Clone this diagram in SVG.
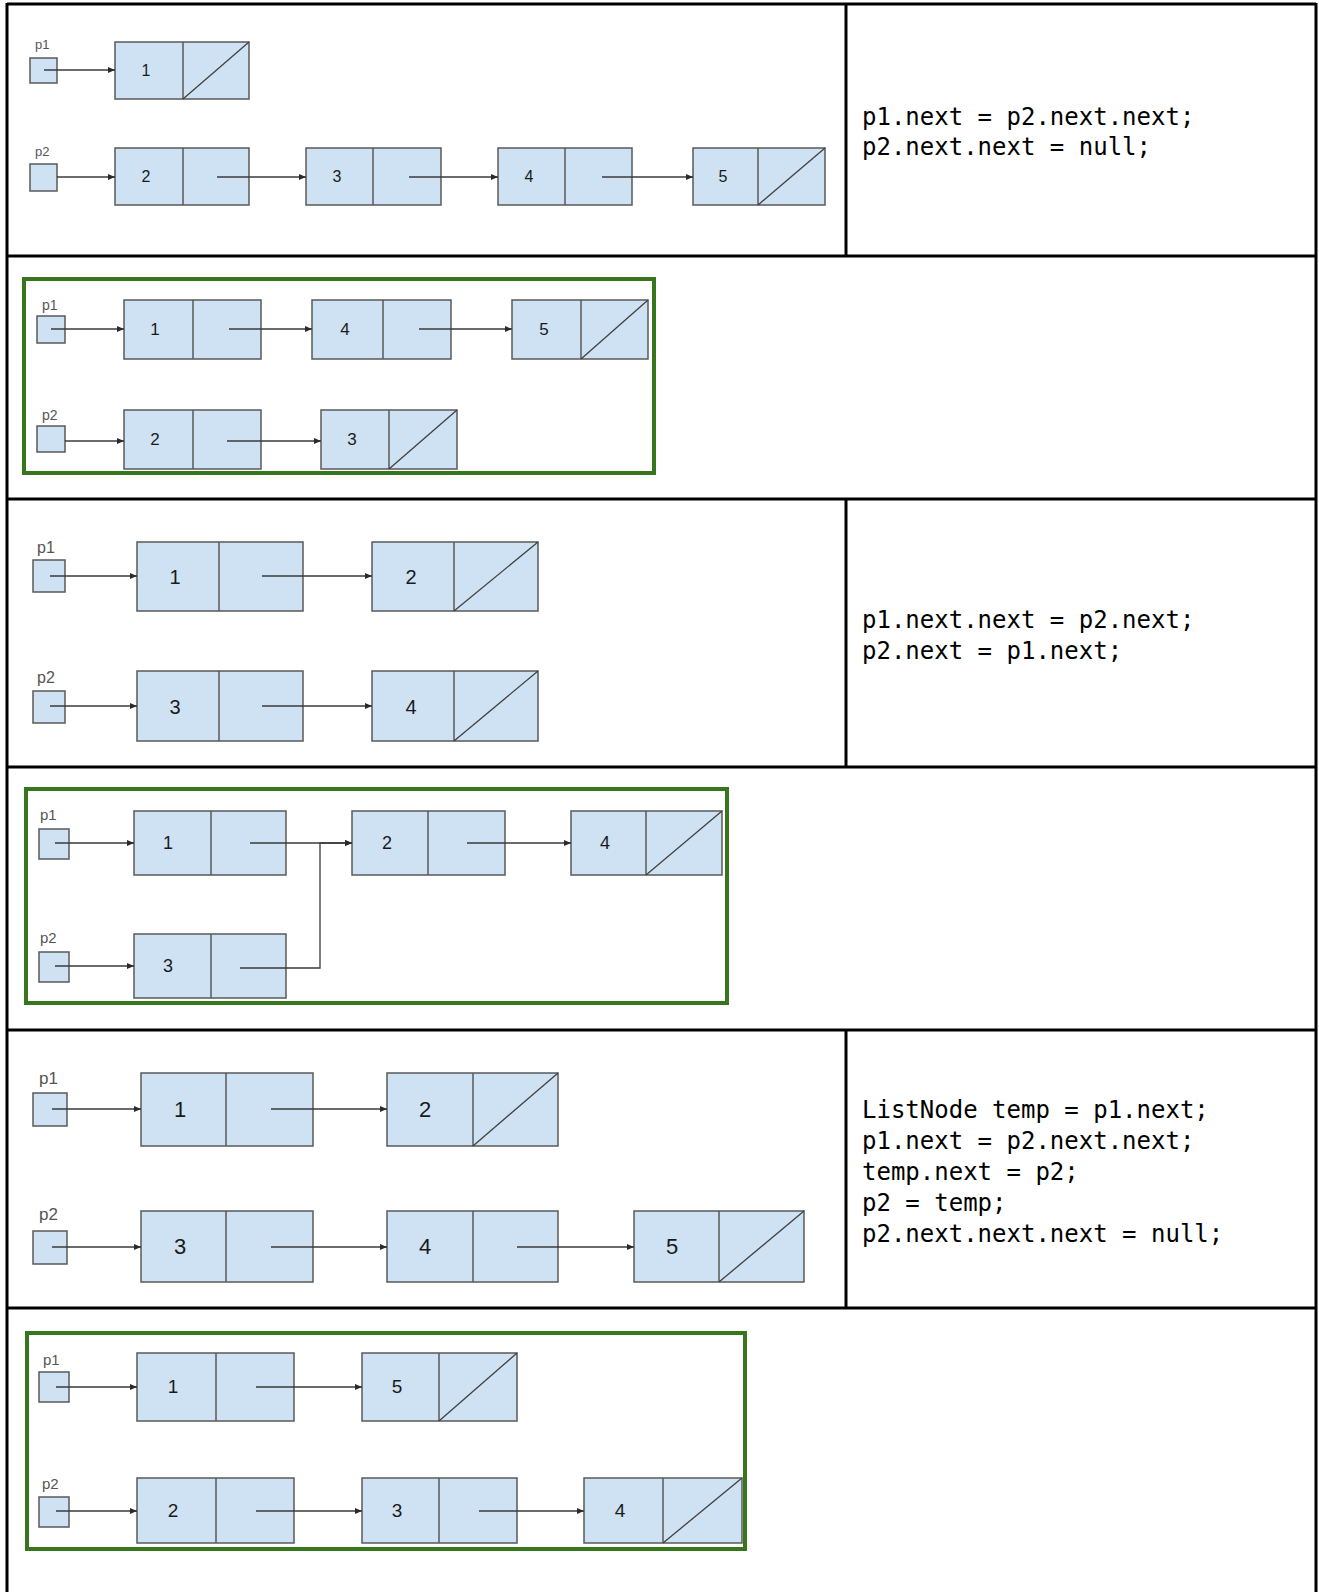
<svg xmlns="http://www.w3.org/2000/svg" width="1319" height="1592" viewBox="0 0 1319 1592">
<style>
.cell{fill:#cfe2f3;stroke:#595959;stroke-width:1.5}
.div{stroke:#595959;stroke-width:1.5}
.slash{stroke:#404040;stroke-width:1.3}
.num{font-family:"Liberation Sans",Arial,sans-serif;fill:#1a1a1a;text-anchor:middle}
.lbl{font-family:"Liberation Sans",Arial,sans-serif;fill:#555}
.code{font-family:"DejaVu Sans Mono","Liberation Mono",monospace;font-size:24px;fill:#000}
.conn{fill:none;stroke:#3a3a3a;stroke-width:1.3;marker-end:url(#ah)}
.grid{stroke:#000;stroke-width:3;fill:none}
.green{fill:none;stroke:#38761d;stroke-width:4}
</style>
<defs>
<marker id="ah" markerUnits="userSpaceOnUse" markerWidth="7" markerHeight="6" refX="7" refY="3" orient="auto">
<path d="M0,0 L7,3 L0,6 z" fill="#2a2a2a"/>
</marker>
</defs>
<rect width="1319" height="1592" fill="#fff"/>

<g id="table">
<line class="grid" x1="7" y1="4" x2="1316" y2="4"/>
<line class="grid" x1="7" y1="256" x2="1316" y2="256"/>
<line class="grid" x1="7" y1="499" x2="1316" y2="499"/>
<line class="grid" x1="7" y1="767" x2="1316" y2="767"/>
<line class="grid" x1="7" y1="1030" x2="1316" y2="1030"/>
<line class="grid" x1="7" y1="1308" x2="1316" y2="1308"/>
<line class="grid" x1="7" y1="3" x2="7" y2="1592"/>
<line class="grid" x1="1316" y1="3" x2="1316" y2="1592"/>
<line class="grid" x1="846" y1="4" x2="846" y2="256"/>
<line class="grid" x1="846" y1="499" x2="846" y2="767"/>
<line class="grid" x1="846" y1="1030" x2="846" y2="1308"/>
</g>

<g id="code">
<text class="code" x="862" y="125">p1.next = p2.next.next;</text>
<text class="code" x="862" y="155">p2.next.next = null;</text>
<text class="code" x="862" y="628">p1.next.next = p2.next;</text>
<text class="code" x="862" y="659">p2.next = p1.next;</text>
<text class="code" x="862" y="1118">ListNode temp = p1.next;</text>
<text class="code" x="862" y="1149">p1.next = p2.next.next;</text>
<text class="code" x="862" y="1180">temp.next = p2;</text>
<text class="code" x="862" y="1211">p2 = temp;</text>
<text class="code" x="862" y="1242">p2.next.next.next = null;</text>
</g>

<g id="highlights">
<rect class="green" x="24" y="279" width="630" height="194"/>
<rect class="green" x="26" y="789" width="701" height="214"/>
<rect class="green" x="27" y="1333" width="718" height="216"/>
</g>

<!-- Row 1 -->
<g id="r1-p1"><text class="lbl" x="35" y="49" font-size="13">p1</text><rect class="cell" x="30" y="58" width="27" height="25"/></g>
<g id="r1-p2"><text class="lbl" x="35" y="156" font-size="13">p2</text><rect class="cell" x="30" y="164" width="27" height="27"/></g>
<g id="r1-n1"><rect class="cell" x="115" y="42" width="134" height="57"/><line class="div" x1="183" y1="42" x2="183" y2="99"/><line class="slash" x1="183" y1="99" x2="249" y2="42"/><text class="num" x="146" y="76" font-size="16">1</text></g>
<g id="r1-n2"><rect class="cell" x="115" y="148" width="134" height="57"/><line class="div" x1="183" y1="148" x2="183" y2="205"/><text class="num" x="146" y="182" font-size="16">2</text></g>
<g id="r1-n3"><rect class="cell" x="306" y="148" width="135" height="57"/><line class="div" x1="373" y1="148" x2="373" y2="205"/><text class="num" x="337" y="182" font-size="16">3</text></g>
<g id="r1-n4"><rect class="cell" x="498" y="148" width="134" height="57"/><line class="div" x1="565" y1="148" x2="565" y2="205"/><text class="num" x="529" y="182" font-size="16">4</text></g>
<g id="r1-n5"><rect class="cell" x="693" y="148" width="132" height="57"/><line class="div" x1="758" y1="148" x2="758" y2="205"/><line class="slash" x1="758" y1="205" x2="825" y2="148"/><text class="num" x="723" y="182" font-size="16">5</text></g>

<!-- Row 2 -->
<g id="r2-p1"><text class="lbl" x="42" y="310" font-size="14">p1</text><rect class="cell" x="37" y="316" width="28" height="27"/></g>
<g id="r2-p2"><text class="lbl" x="42" y="420" font-size="14">p2</text><rect class="cell" x="37" y="426" width="28" height="26"/></g>
<g id="r2-n1"><rect class="cell" x="124" y="300" width="137" height="59"/><line class="div" x1="193" y1="300" x2="193" y2="359"/><text class="num" x="155" y="335" font-size="17">1</text></g>
<g id="r2-n4"><rect class="cell" x="312" y="300" width="139" height="59"/><line class="div" x1="383" y1="300" x2="383" y2="359"/><text class="num" x="345" y="335" font-size="17">4</text></g>
<g id="r2-n5"><rect class="cell" x="512" y="300" width="136" height="59"/><line class="div" x1="581" y1="300" x2="581" y2="359"/><line class="slash" x1="581" y1="359" x2="648" y2="300"/><text class="num" x="544" y="335" font-size="17">5</text></g>
<g id="r2-n2"><rect class="cell" x="124" y="410" width="137" height="59"/><line class="div" x1="193" y1="410" x2="193" y2="469"/><text class="num" x="155" y="445" font-size="17">2</text></g>
<g id="r2-n3"><rect class="cell" x="321" y="410" width="136" height="59"/><line class="div" x1="389" y1="410" x2="389" y2="469"/><line class="slash" x1="389" y1="469" x2="457" y2="410"/><text class="num" x="352" y="445" font-size="17">3</text></g>

<!-- Row 3 -->
<g id="r3-p1"><text class="lbl" x="37" y="553" font-size="16" fill="#444">p1</text><rect class="cell" x="33" y="560" width="32" height="32"/></g>
<g id="r3-p2"><text class="lbl" x="37" y="683" font-size="16" fill="#444">p2</text><rect class="cell" x="33" y="691" width="32" height="32"/></g>
<g id="r3-n1"><rect class="cell" x="137" y="542" width="166" height="69"/><line class="div" x1="219" y1="542" x2="219" y2="611"/><text class="num" x="175" y="584" font-size="20">1</text></g>
<g id="r3-n2"><rect class="cell" x="372" y="542" width="166" height="69"/><line class="div" x1="454" y1="542" x2="454" y2="611"/><line class="slash" x1="454" y1="611" x2="538" y2="542"/><text class="num" x="411" y="584" font-size="20">2</text></g>
<g id="r3-n3"><rect class="cell" x="137" y="671" width="166" height="70"/><line class="div" x1="219" y1="671" x2="219" y2="741"/><text class="num" x="175" y="714" font-size="20">3</text></g>
<g id="r3-n4"><rect class="cell" x="372" y="671" width="166" height="70"/><line class="div" x1="454" y1="671" x2="454" y2="741"/><line class="slash" x1="454" y1="741" x2="538" y2="671"/><text class="num" x="411" y="714" font-size="20">4</text></g>

<!-- Row 4 -->
<g id="r4-p1"><text class="lbl" x="40" y="820" font-size="15" fill="#444">p1</text><rect class="cell" x="39" y="829" width="30" height="30"/></g>
<g id="r4-p2"><text class="lbl" x="40" y="943" font-size="15" fill="#444">p2</text><rect class="cell" x="39" y="952" width="30" height="30"/></g>
<g id="r4-n1"><rect class="cell" x="134" y="811" width="152" height="64"/><line class="div" x1="211" y1="811" x2="211" y2="875"/><text class="num" x="168" y="849" font-size="18">1</text></g>
<g id="r4-n2"><rect class="cell" x="352" y="811" width="153" height="64"/><line class="div" x1="428" y1="811" x2="428" y2="875"/><text class="num" x="387" y="849" font-size="18">2</text></g>
<g id="r4-n4"><rect class="cell" x="571" y="811" width="151" height="64"/><line class="div" x1="646" y1="811" x2="646" y2="875"/><line class="slash" x1="646" y1="875" x2="722" y2="811"/><text class="num" x="605" y="849" font-size="18">4</text></g>
<g id="r4-n3"><rect class="cell" x="134" y="934" width="152" height="64"/><line class="div" x1="211" y1="934" x2="211" y2="998"/><text class="num" x="168" y="972" font-size="18">3</text></g>

<!-- Row 5 -->
<g id="r5-p1"><text class="lbl" x="39" y="1084" font-size="17" fill="#444">p1</text><rect class="cell" x="33" y="1093" width="34" height="33"/></g>
<g id="r5-p2"><text class="lbl" x="39" y="1220" font-size="17" fill="#444">p2</text><rect class="cell" x="33" y="1231" width="34" height="33"/></g>
<g id="r5-n1"><rect class="cell" x="141" y="1073" width="172" height="73"/><line class="div" x1="226" y1="1073" x2="226" y2="1146"/><text class="num" x="180" y="1117" font-size="22">1</text></g>
<g id="r5-n2"><rect class="cell" x="387" y="1073" width="171" height="73"/><line class="div" x1="473" y1="1073" x2="473" y2="1146"/><line class="slash" x1="473" y1="1146" x2="558" y2="1073"/><text class="num" x="425" y="1117" font-size="22">2</text></g>
<g id="r5-n3"><rect class="cell" x="141" y="1211" width="172" height="71"/><line class="div" x1="226" y1="1211" x2="226" y2="1282"/><text class="num" x="180" y="1254" font-size="22">3</text></g>
<g id="r5-n4"><rect class="cell" x="387" y="1211" width="171" height="71"/><line class="div" x1="473" y1="1211" x2="473" y2="1282"/><text class="num" x="425" y="1254" font-size="22">4</text></g>
<g id="r5-n5"><rect class="cell" x="634" y="1211" width="170" height="71"/><line class="div" x1="719" y1="1211" x2="719" y2="1282"/><line class="slash" x1="719" y1="1282" x2="804" y2="1211"/><text class="num" x="672" y="1254" font-size="22">5</text></g>

<!-- Row 6 -->
<g id="r6-p1"><text class="lbl" x="43" y="1365" font-size="15">p1</text><rect class="cell" x="39" y="1372" width="30" height="30"/></g>
<g id="r6-p2"><text class="lbl" x="42" y="1489" font-size="15">p2</text><rect class="cell" x="39" y="1497" width="30" height="30"/></g>
<g id="r6-n1"><rect class="cell" x="137" y="1353" width="157" height="68"/><line class="div" x1="216" y1="1353" x2="216" y2="1421"/><text class="num" x="173" y="1393" font-size="19">1</text></g>
<g id="r6-n5"><rect class="cell" x="362" y="1353" width="155" height="68"/><line class="div" x1="439" y1="1353" x2="439" y2="1421"/><line class="slash" x1="439" y1="1421" x2="517" y2="1353"/><text class="num" x="397" y="1393" font-size="19">5</text></g>
<g id="r6-n2"><rect class="cell" x="137" y="1478" width="157" height="65"/><line class="div" x1="216" y1="1478" x2="216" y2="1543"/><text class="num" x="173" y="1517" font-size="19">2</text></g>
<g id="r6-n3"><rect class="cell" x="362" y="1478" width="155" height="65"/><line class="div" x1="439" y1="1478" x2="439" y2="1543"/><text class="num" x="397" y="1517" font-size="19">3</text></g>
<g id="r6-n4"><rect class="cell" x="584" y="1478" width="158" height="65"/><line class="div" x1="663" y1="1478" x2="663" y2="1543"/><line class="slash" x1="663" y1="1543" x2="742" y2="1478"/><text class="num" x="620" y="1517" font-size="19">4</text></g>

<g id="connectors">
<path class="conn" d="M44,70 H115"/>
<path class="conn" d="M57,177 H115"/>
<path class="conn" d="M217,177 H306"/>
<path class="conn" d="M409,177 H498"/>
<path class="conn" d="M602,177 H693"/>

<path class="conn" d="M51,329 H124"/>
<path class="conn" d="M229,329 H312"/>
<path class="conn" d="M419,329 H512"/>
<path class="conn" d="M65,441 H124"/>
<path class="conn" d="M227,441 H321"/>

<path class="conn" d="M50,576 H137"/>
<path class="conn" d="M262,576 H372"/>
<path class="conn" d="M50,706 H137"/>
<path class="conn" d="M262,706 H372"/>

<path class="conn" d="M55,843 H134"/>
<path class="conn" d="M250,843 H352"/>
<path class="conn" d="M467,843 H571"/>
<path class="conn" d="M55,966 H134"/>
<path class="conn" d="M240,968 H320 V843 H352"/>

<path class="conn" d="M52,1109 H141"/>
<path class="conn" d="M271,1109 H387"/>
<path class="conn" d="M52,1247 H141"/>
<path class="conn" d="M271,1247 H387"/>
<path class="conn" d="M517,1247 H634"/>

<path class="conn" d="M56,1387 H137"/>
<path class="conn" d="M256,1387 H362"/>
<path class="conn" d="M56,1511 H137"/>
<path class="conn" d="M256,1511 H362"/>
<path class="conn" d="M479,1511 H584"/>
</g>
</svg>
